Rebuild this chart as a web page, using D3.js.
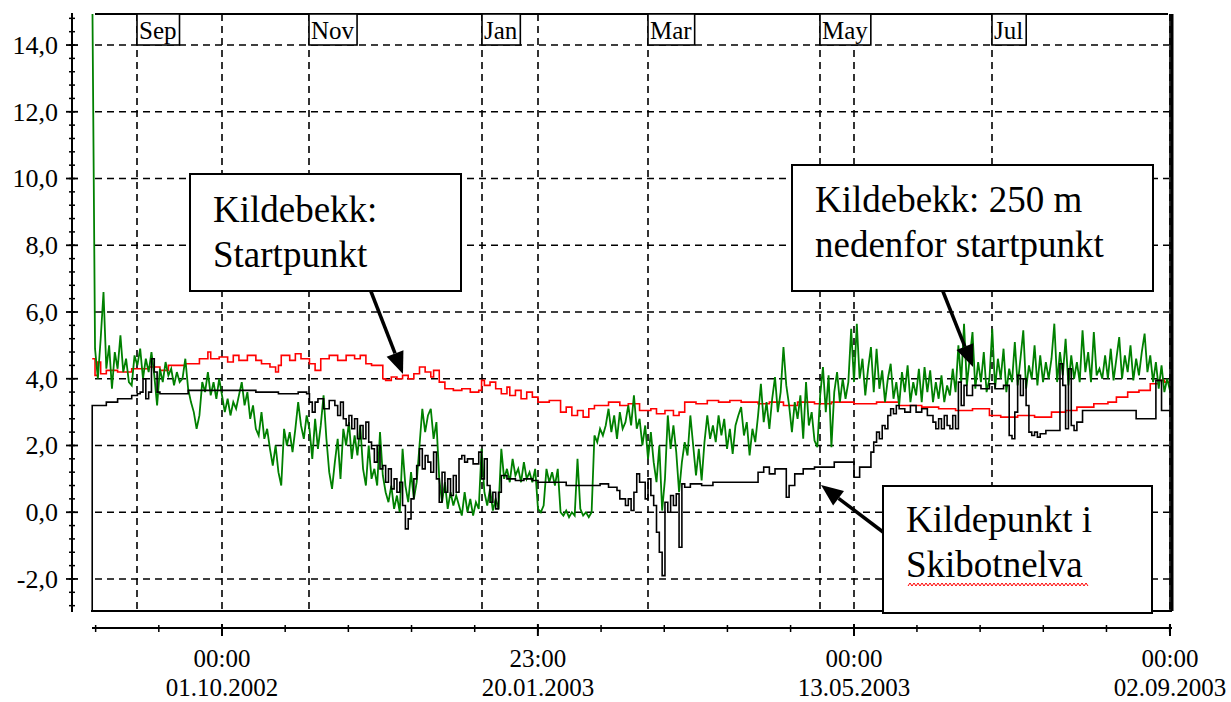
<!DOCTYPE html>
<html><head><meta charset="utf-8">
<script src="https://cdn.jsdelivr.net/npm/d3@7/dist/d3.min.js"></script>
<style>
body{margin:0;background:#fff}
svg{display:block}
text{font-family:"Liberation Serif","DejaVu Serif","Noto Serif","Times New Roman",serif;fill:#000}
</style>
</head><body>
<svg id="chart" width="1231" height="702"></svg>
<script>
// ---------------- DATA ----------------
// day 0 = 16.08.2002; green = daily readings
const seriesStart = Date.UTC(2002, 7, 16);
const greenValues = [
16,4.9,4.0,5.2,6.6,4.3,5.0,3.7,4.8,4.3,
5.3,4.2,4.6,3.9,3.8,4.7,4.4,4.9,4.0,4.6,
4.2,4.8,4.1,3.2,4.3,3.9,4.5,4.1,4.3,3.8,
4.2,3.9,4.0,4.6,3.7,3.3,3.0,2.5,2.9,3.9,
3.6,4.2,3.5,3.9,3.4,4.0,3.5,3.0,3.4,2.9,
3.3,3.1,3.5,3.9,3.2,3.6,2.8,3.2,2.5,2.3,
3.0,2.2,2.5,1.9,1.4,2.0,1.2,0.8,2.5,2.0,
2.4,1.8,2.5,3.3,2.6,2.2,2.9,2.5,1.6,2.8,
1.9,2.6,3.5,2.2,1.2,0.7,1.5,2.2,1.0,2.5,
2.0,2.7,1.6,2.3,1.7,2.6,1.3,0.8,2.0,1.0,
1.3,0.8,2.4,1.1,0.6,0.3,0.8,0.1,0.5,0.0,
1.9,0.8,0.3,1.2,0.4,0.9,2.0,3.1,2.4,2.9,
3.1,2.2,2.7,1.0,0.3,0.9,0.1,0.6,0.2,0.5,
0.2,-0.1,0.6,0.0,0.4,-0.1,0.3,0.1,1.9,0.6,
0.2,0.7,0.05,0.4,0.1,1.9,1.0,1.3,0.9,1.6,
1.1,1.3,0.9,1.5,1.0,1.2,0.9,1.3,0.1,0.0,
0.2,1.3,0.9,1.2,0.8,1.3,0.0,-0.1,0.05,-0.15,
0.0,-0.1,1.6,0.1,-0.1,0.0,-0.15,0.0,2.3,2.1,
2.5,2.3,2.6,3.1,2.4,2.9,2.2,3.0,2.5,2.7,
3.2,2.6,3.5,2.5,2.8,2.0,2.6,1.6,2.4,1.5,
0.9,2.0,0.05,1.0,2.9,1.9,2.6,1.8,0.6,1.5,
2.1,1.7,2.9,2.0,1.1,1.9,0.95,2.1,2.9,2.2,
2.6,2.1,2.9,2.3,2.8,1.9,2.5,1.75,2.6,2.9,
3.15,2.3,2.7,1.7,2.5,2.1,2.9,3.85,2.7,3.3,
2.5,3.4,4.05,3.0,3.6,4.95,3.8,3.2,2.4,3.3,
2.8,3.5,2.2,3.9,2.6,3.0,2.15,1.95,3.5,4.35,
3.0,4.1,1.95,3.6,4.2,3.3,4.0,3.4,3.9,5.5,
3.9,5.65,4.0,4.6,3.5,4.3,4.95,3.6,4.9,3.7,
4.25,3.3,4.0,4.45,3.4,3.9,3.2,4.2,3.6,4.4,
3.3,3.9,3.5,4.3,3.3,4.35,3.6,4.25,3.3,3.9,
3.4,4.1,3.3,3.8,3.5,4.3,3.6,5.0,3.9,5.65,
3.8,4.6,5.4,3.7,4.5,3.9,4.8,3.6,4.0,5.5,
3.7,4.6,4.0,4.9,3.6,4.3,3.9,5.1,3.8,4.6,
5.45,3.7,4.4,4.0,5.0,3.8,4.7,3.9,4.5,4.0,
4.6,5.65,3.9,4.8,4.1,5.2,3.8,4.7,4.0,4.5,
3.9,5.45,4.2,4.8,3.9,5.4,4.1,4.3,4.0,4.7,
4.0,4.9,3.95,4.6,5.25,4.0,4.7,4.2,5.0,3.95,
4.6,4.1,4.8,5.35,4.2,4.7,3.9,4.5,3.7,4.4,
3.6,4.0,3.65
];
// [day, value] change points (step series)
const redSteps = [
[0,4.6],[1,4.1],[2,4.5],[3,4.15],[5,4.25],[9,4.2],[14,4.3],[20,4.35],[24,4.25],[27,4.4],
[33,4.45],[38,4.6],[41,4.8],[42,4.6],[45,4.65],[48,4.5],[50,4.7],[52,4.55],[55,4.7],[58,4.55],
[60,4.45],[63,4.35],[65,4.2],[66,4.4],[67,4.7],[70,4.55],[72,4.75],[74,4.6],[77,4.45],[79,4.25],
[81,4.6],[84,4.7],[87,4.55],[90,4.7],[93,4.6],[95,4.7],[97,4.45],[99,4.4],[103,4.0],[104,3.95],
[106,4.05],[108,4.0],[110,4.1],[112,4.0],[114,4.15],[116,4.35],[118,4.2],[120,4.05],[121,4.25],[123,3.9],
[125,3.7],[128,3.65],[131,3.7],[134,3.6],[137,3.65],[138,3.95],[139,3.8],[141,3.9],[143,3.7],[145,3.55],
[147,3.75],[148,3.5],[150,3.65],[152,3.4],[154,3.6],[156,3.45],[158,3.3],[162,3.35],[166,3.0],[168,3.15],
[170,2.9],[172,3.05],[174,2.85],[176,3.1],[178,3.2],[183,3.3],[187,3.2],[190,3.25],[194,3.05],[198,3.1],
[200,2.95],[203,3.05],[206,2.9],[208,3.0],[210,3.3],[214,3.25],[218,3.35],[222,3.3],[226,3.35],[230,3.3],
[236,3.25],[240,3.3],[245,3.2],[250,3.3],[256,3.25],[262,3.3],[270,3.25],[278,3.3],[286,3.2],[294,3.15],
[300,3.1],[306,3.05],[312,3.1],[318,2.9],[322,2.85],[328,2.9],[334,2.85],[340,3.0],[345,3.05],[349,3.15],
[355,3.25],[360,3.3],[363,3.45],[367,3.6],[371,3.65],[375,3.85],[378,3.95],[380,3.9],[382,3.9]
];
const blackSteps = [
[0,-4],[0,3.2],[5,3.3],[9,3.4],[14,3.5],[16,3.55],[17,3.6],[18,4.0],[19,3.4],[20,3.6],[21,4.6],[22,4.2],[23,3.6],
[24,3.55],[34,3.65],[58,3.6],[66,3.55],[73,3.6],[76,3.55],[77,3.3],[78,3.0],[79,3.3],[80,3.4],[82,3.1],
[84,3.35],[86,3.2],[87,2.9],[88,3.3],[89,2.8],[90,2.6],[91,2.9],[92,2.5],[93,2.8],[94,2.2],
[95,2.6],[96,2.2],[97,2.7],[98,2.1],[99,1.9],[100,1.5],[101,2.0],[102,1.3],[103,1.4],[104,0.9],
[105,1.3],[106,0.7],[107,1.0],[108,0.6],[109,0.9],[110,0.2],[111,-0.5],[112,-0.2],[113,0.4],[114,1.0],
[115,1.4],[116,1.9],[117,1.3],[118,1.7],[119,1.5],[120,1.2],[121,1.8],[122,1.0],[123,0.3],[124,1.2],
[125,0.6],[126,1.0],[127,0.5],[128,1.1],[129,0.6],[130,1.6],[131,1.7],[132,1.5],[133,1.6],[135,1.45],
[137,1.8],[138,1.0],[139,1.6],[140,0.8],[141,0.3],[142,0.6],[143,0.1],[144,0.6],[145,1.1],[147,1.0],
[150,0.95],[153,1.0],[156,0.95],[158,0.9],[168,0.8],[180,0.85],[183,0.75],[186,0.65],[187,0.4],[189,0.2],
[190,0.4],[191,0.05],[192,0.6],[193,1.15],[194,0.9],[196,0.4],[197,1.0],[198,0.5],[199,0.2],[200,-0.6],
[201,-1.2],[202,-1.9],[203,0.3],[204,0.0],[205,0.5],[206,0.2],[207,0.55],[208,-1.05],[209,0.85],[210,0.75],
[212,0.85],[216,0.8],[220,0.9],[236,1.2],[238,1.35],[240,1.15],[242,1.3],[246,0.45],[247,0.8],[249,1.15],
[252,1.3],[256,1.35],[263,1.5],[270,1.05],[272,1.35],[276,1.8],[277,2.1],[278,2.4],[279,2.2],[280,2.6],
[281,2.5],[282,2.9],[283,3.1],[284,2.95],[285,3.2],[286,3.1],[288,3.0],[290,3.2],[292,3.0],[294,3.1],
[296,2.9],[298,2.7],[299,2.5],[300,2.8],[301,2.5],[302,2.9],[303,2.6],[304,2.5],[305,2.9],[306,2.5],
[307,3.9],[308,3.2],[309,3.8],[310,3.5],[312,3.8],[315,3.7],[318,3.85],[320,3.7],[323,3.8],[325,2.3],
[326,2.2],[327,3.0],[328,4.1],[329,3.5],[330,4.0],[331,3.2],[332,2.4],[333,2.3],[334,2.4],[335,2.25],
[336,2.35],[338,2.45],[343,4.45],[344,3.8],[345,2.5],[346,4.3],[347,2.6],[348,2.45],[349,2.7],[351,3.05],
[370,2.8],[377,3.95],[379,3.05],[382,16],[382,-4]
];
const yTickValues = [-2, 0, 2, 4, 6, 8, 10, 12, 14];
const monthDates = [Date.UTC(2002,8,1), Date.UTC(2002,10,1), Date.UTC(2003,0,1), Date.UTC(2003,2,1), Date.UTC(2003,4,1), Date.UTC(2003,6,1)];
const monthNames = ["Sep", "Nov", "Jan", "Mar", "May", "Jul"];
const axisTickDates = [Date.UTC(2002,9,1,0), Date.UTC(2003,0,20,23), Date.UTC(2003,4,13,0), Date.UTC(2003,8,2,0)];
const axisTimeLabels = ["00:00", "23:00", "00:00", "00:00"];
const axisDateLabels = ["01.10.2002", "20.01.2003", "13.05.2003", "02.09.2003"];
const annotationLines = [
  ["Kildebekk:", "Startpunkt"],
  ["Kildebekk: 250 m", "nedenfor startpunkt"],
  ["Kildepunkt i", "Skibotnelva"]
];

// ---------------- LAYOUT ----------------
const SERIF = '"Liberation Serif","DejaVu Serif","Noto Serif",serif';
const svg = d3.select("#chart");
const P = {l: 91, r: 1172, t: 14, b: 611};
const x = d3.scaleUtc()
  .domain([new Date(Date.UTC(2002,7,15,13,40)), new Date(Date.UTC(2003,8,2,17,0))])
  .range([P.l, P.r]);
const y = d3.scaleLinear().domain([-2.96, 14.93]).range([P.b, P.t]);
const dayDate = d => new Date(seriesStart + d * 864e5);
const fmt = d3.formatLocale({decimal: ",", thousands: ".", grouping: [3], currency: ["", ""], minus: "-"}).format(".1f");

svg.append("rect").attr("width", 1231).attr("height", 702).attr("fill", "#fff");

svg.append("defs").append("clipPath").attr("id", "clip")
  .append("rect").attr("x", P.l).attr("y", P.t).attr("width", P.r - P.l).attr("height", P.b - P.t);

// grid
const grid = svg.append("g").attr("stroke", "#000").attr("stroke-width", 1.6)
  .attr("stroke-dasharray", "7,5").attr("fill", "none");
yTickValues.forEach(v => {
  grid.append("line").attr("x1", P.l + 4).attr("x2", P.r - 3).attr("y1", y(v)).attr("y2", y(v));
});
monthDates.concat(axisTickDates).forEach(t => {
  const xx = Math.round(x(new Date(t)));
  grid.append("line").attr("x1", xx).attr("x2", xx).attr("y1", P.t).attr("y2", P.b);
});

// data
const dataG = svg.append("g").attr("clip-path", "url(#clip)");
const stepLine = d3.line().x(d => x(dayDate(d[0]))).y(d => y(d[1])).curve(d3.curveStepAfter);
const plainLine = d3.line().x(d => x(dayDate(d[0]))).y(d => y(d[1]));
dataG.append("path").datum(redSteps).attr("d", stepLine)
  .attr("fill", "none").attr("stroke", "#ff0000").attr("stroke-width", 1.6);
dataG.append("path").datum(greenValues.map((v, i) => [i, v])).attr("d", plainLine)
  .attr("fill", "none").attr("stroke", "#008000").attr("stroke-width", 1.8);
dataG.append("path").datum(blackSteps).attr("d", stepLine)
  .attr("fill", "none").attr("stroke", "#000").attr("stroke-width", 1.6);

// frame
const frame = svg.append("g").attr("stroke", "#000").attr("fill", "none");
frame.append("line").attr("x1", P.l + 4).attr("x2", P.r - 4).attr("y1", P.t).attr("y2", P.t).attr("stroke-width", 1.8);
frame.append("line").attr("x1", P.l).attr("x2", P.r).attr("y1", P.b).attr("y2", P.b).attr("stroke-width", 1.8);
frame.append("line").attr("x1", P.r).attr("x2", P.r).attr("y1", P.t).attr("y2", P.b).attr("stroke-width", 3);

// month labels
monthDates.forEach((t, i) => {
  const x0 = Math.round(x(new Date(t)));
  const g = svg.append("g");
  const txt = g.append("text").attr("x", x0 + 2).attr("y", 39).attr("font-size", 25)
    .attr("font-family", SERIF).text(monthNames[i]);
  const w = txt.node().getComputedTextLength();
  g.insert("rect", "text").attr("x", x0).attr("y", P.t).attr("width", w + 5).attr("height", 31)
    .attr("fill", "#fff").attr("stroke", "#000").attr("stroke-width", 1.6);
});

// y axis
const yAx = svg.append("g");
yAx.append("line").attr("x1", 72).attr("x2", 72).attr("y1", 13).attr("y2", 612).attr("stroke", "#000").attr("stroke-width", 2);
d3.range(-2.8, 15.0, 0.4).forEach(v => {
  yAx.append("line").attr("x1", 69).attr("x2", 75).attr("y1", y(v)).attr("y2", y(v)).attr("stroke", "#000").attr("stroke-width", 1.5);
});
yTickValues.forEach(v => {
  yAx.append("line").attr("x1", 66).attr("x2", 78).attr("y1", y(v)).attr("y2", y(v)).attr("stroke", "#000").attr("stroke-width", 1.8);
  yAx.append("text").attr("x", 58).attr("y", y(v)).attr("dy", "0.34em").attr("text-anchor", "end")
    .attr("font-size", 26).attr("font-family", SERIF).text(fmt(v));
});

// x axis
const xAx = svg.append("g");
xAx.append("line").attr("x1", 92).attr("x2", P.r).attr("y1", 628).attr("y2", 628).attr("stroke", "#000").attr("stroke-width", 2);
const step = (axisTickDates[1] - axisTickDates[0]) / 5;
for (let t = axisTickDates[0] - 2 * step; t <= axisTickDates[3] + 1; t += step) {
  const xx = x(new Date(t));
  if (xx < 92) continue;
  xAx.append("line").attr("x1", xx).attr("x2", xx).attr("y1", 625).attr("y2", 632).attr("stroke", "#000").attr("stroke-width", 1.5);
}
axisTickDates.forEach((t, i) => {
  const xx = x(new Date(t));
  xAx.append("line").attr("x1", xx).attr("x2", xx).attr("y1", 624).attr("y2", 636).attr("stroke", "#000").attr("stroke-width", 2);
  xAx.append("text").attr("x", xx).attr("y", 667).attr("text-anchor", "middle").attr("font-size", 25)
    .attr("font-family", SERIF).text(axisTimeLabels[i]);
  xAx.append("text").attr("x", xx).attr("y", 696).attr("text-anchor", "middle").attr("font-size", 25)
    .attr("font-family", SERIF).text(axisDateLabels[i]);
});

// annotations
const boxes = [
  {x: 190, y: 174, w: 271, h: 117, tx: 213, ty: 222},
  {x: 792, y: 165, w: 361, h: 126, tx: 815, ty: 212},
  {x: 883, y: 486, w: 269, h: 127, tx: 906, ty: 532}
];
const arrows = [
  {x1: 370, y1: 289, x2: 403, y2: 374},
  {x1: 942, y1: 289, x2: 973, y2: 367},
  {x1: 883, y1: 532, x2: 821, y2: 485}
];
arrows.forEach(a => {
  const ang = Math.atan2(a.y2 - a.y1, a.x2 - a.x1);
  const L = 22, Wd = 9;
  const bx = a.x2 - L * Math.cos(ang), by = a.y2 - L * Math.sin(ang);
  svg.append("line").attr("x1", a.x1).attr("y1", a.y1).attr("x2", bx).attr("y2", by)
    .attr("stroke", "#000").attr("stroke-width", 3.5);
  const px = -Math.sin(ang) * Wd, py = Math.cos(ang) * Wd;
  svg.append("path").attr("d", `M${a.x2},${a.y2}L${bx + px},${by + py}L${bx - px},${by - py}Z`).attr("fill", "#000");
});
boxes.forEach((b, i) => {
  svg.append("rect").attr("x", b.x).attr("y", b.y).attr("width", b.w).attr("height", b.h)
    .attr("fill", "#fff").attr("stroke", "#000").attr("stroke-width", 2);
  annotationLines[i].forEach((s, j) => {
    svg.append("text").attr("x", b.tx).attr("y", b.ty + j * 45).attr("font-size", 37)
      .attr("font-family", SERIF).text(s);
  });
});
// spell-check squiggle under "Skibotnelva"
let sq = "M908,586";
for (let xx = 908, k = 0; xx < 1088; xx += 2, k++) sq += `L${xx + 2},${k % 2 ? 586 : 583}`;
svg.append("path").attr("d", sq).attr("fill", "none").attr("stroke", "#ff0000").attr("stroke-width", 1);
</script>
</body></html>
